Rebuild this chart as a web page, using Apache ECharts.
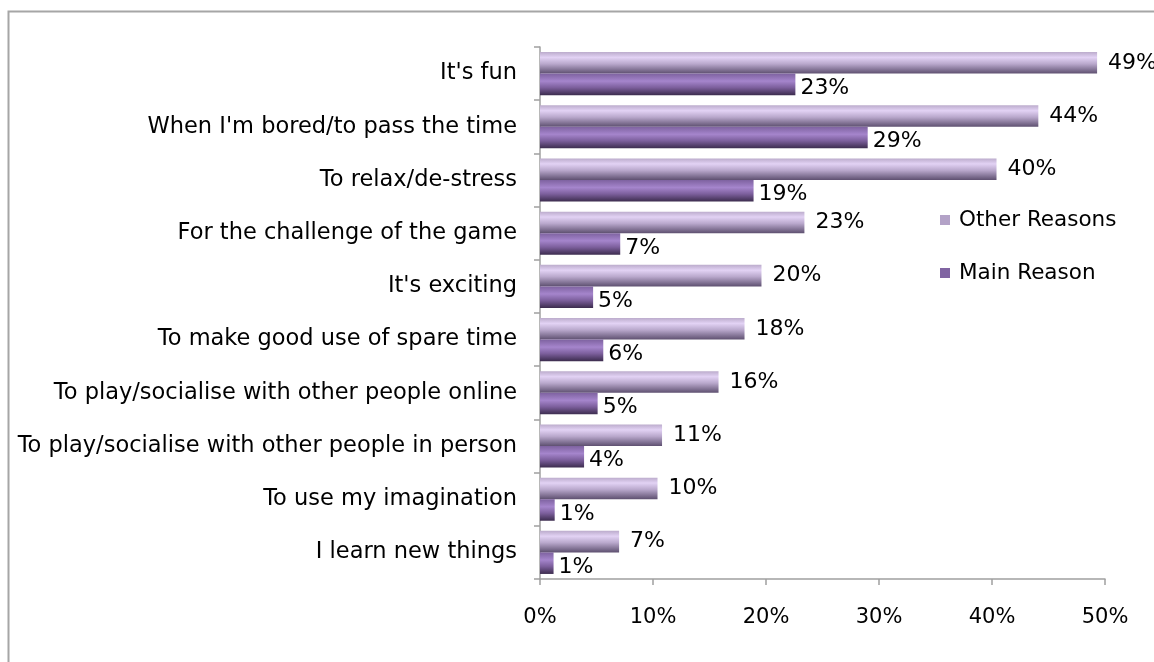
<!DOCTYPE html>
<html>
<head>
<meta charset="utf-8">
<title>Reasons for playing</title>
<script src="https://cdn.jsdelivr.net/npm/echarts@6/dist/echarts.min.js"></script>
<style>
  html, body { margin: 0; padding: 0; background: #fff; }
  #main { width: 1154px; height: 662px; }
</style>
</head>
<body>
<div id="main"></div>
<script>
var categories = [
  "It's fun",
  "When I'm bored/to pass the time",
  "To relax/de-stress",
  "For the challenge of the game",
  "It's exciting",
  "To make good use of spare time",
  "To play/socialise with other people online",
  "To play/socialise with other people in person",
  "To use my imagination",
  "I learn new things"
];
var otherReasons = [49.3, 44.1, 40.4, 23.4, 19.6, 18.1, 15.8, 10.8, 10.4, 7.0];
var mainReason = [22.6, 29.0, 18.9, 7.1, 4.7, 5.6, 5.1, 3.9, 1.3, 1.2];
var xTicks = [0, 10, 20, 30, 40, 50];

function init_echart_bar_reasons(container) {
  var chartDom = document.getElementById(container);
  var myChart = echarts.init(chartDom);
  var option;
  var font = "DejaVu Sans";

  option = {
    animation: false,
    backgroundColor: "#fff",
    textStyle: { fontFamily: font },
    graphic: [
      {
        // outer frame, runs off the right and bottom edges
        type: "rect",
        shape: { x: 8.5, y: 11.5, width: 1300, height: 800 },
        style: { fill: null, stroke: "#a6a6a6", lineWidth: 2 },
        silent: true
      }
    ],
    grid: {
      left: 540,
      right: 49,
      top: 47,
      bottom: 83,
      containLabel: false
    },
    legend: {
      orient: "vertical",
      left: 935,
      top: 204,
      itemGap: 31,
      itemWidth: 10,
      itemHeight: 10,
      icon: "rect",
      textStyle: { fontSize: 21.5, color: "#000", fontFamily: font, padding: [0, 0, 0, 4] },
      data: [
        { name: "Other Reasons", itemStyle: { color: "#b3a2c7" } },
        { name: "Main Reason", itemStyle: { color: "#8064a2" } }
      ]
    },
    xAxis: {
      type: "value",
      min: xTicks[0],
      max: xTicks[xTicks.length - 1],
      interval: 10,
      axisLine: { show: true, lineStyle: { color: "#a0a0a0", width: 1.5 } },
      axisTick: { show: true, length: 6, lineStyle: { color: "#a0a0a0", width: 1.5 } },
      splitLine: { show: false },
      axisLabel: {
        margin: 28,
        color: "#000",
        fontSize: 21,
        fontFamily: font,
        formatter: "{value}%"
      }
    },
    yAxis: {
      type: "category",
      inverse: true,
      data: categories,
      axisLine: { show: true, lineStyle: { color: "#a0a0a0", width: 1.5 } },
      axisTick: { show: true, length: 6, lineStyle: { color: "#a0a0a0", width: 1.5 } },
      axisLabel: {
        margin: 23,
        color: "#000",
        fontSize: 22.5,
        fontFamily: font
      }
    },
    series: [
      {
        name: "Other Reasons",
        type: "bar",
        data: otherReasons,
        barGap: "0%",
        barCategoryGap: "19%",
        itemStyle: {
          color: {
            type: "linear", x: 0, y: 0, x2: 0, y2: 1,
            colorStops: [
              { offset: 0, color: "#bcaccc" },
              { offset: 0.25, color: "#e2d2f4" },
              { offset: 0.55, color: "#b9a8cc" },
              { offset: 1, color: "#5e5070" }
            ]
          }
        },
        label: {
          show: true,
          position: "right",
          distance: 11,
          color: "#000",
          fontSize: 22,
          fontFamily: font,
          formatter: function (p) { return Math.round(p.value) + "%"; }
        }
      },
      {
        name: "Main Reason",
        type: "bar",
        data: mainReason,
        barGap: "0%",
        barCategoryGap: "19%",
        itemStyle: {
          color: {
            type: "linear", x: 0, y: 0, x2: 0, y2: 1,
            colorStops: [
              { offset: 0, color: "#7e62a0" },
              { offset: 0.35, color: "#a585cc" },
              { offset: 0.65, color: "#7c5f9c" },
              { offset: 1, color: "#3c2c4e" }
            ]
          }
        },
        label: {
          show: true,
          position: "right",
          distance: 5,
          offset: [0, 4],
          color: "#000",
          fontSize: 22,
          fontFamily: font,
          formatter: function (p) { return Math.round(p.value) + "%"; }
        }
      }
    ]
  };

  option && myChart.setOption(option);
  window.addEventListener("resize", function () {
    myChart.resize();
  });
}

init_echart_bar_reasons("main");
</script>
</body>
</html>
